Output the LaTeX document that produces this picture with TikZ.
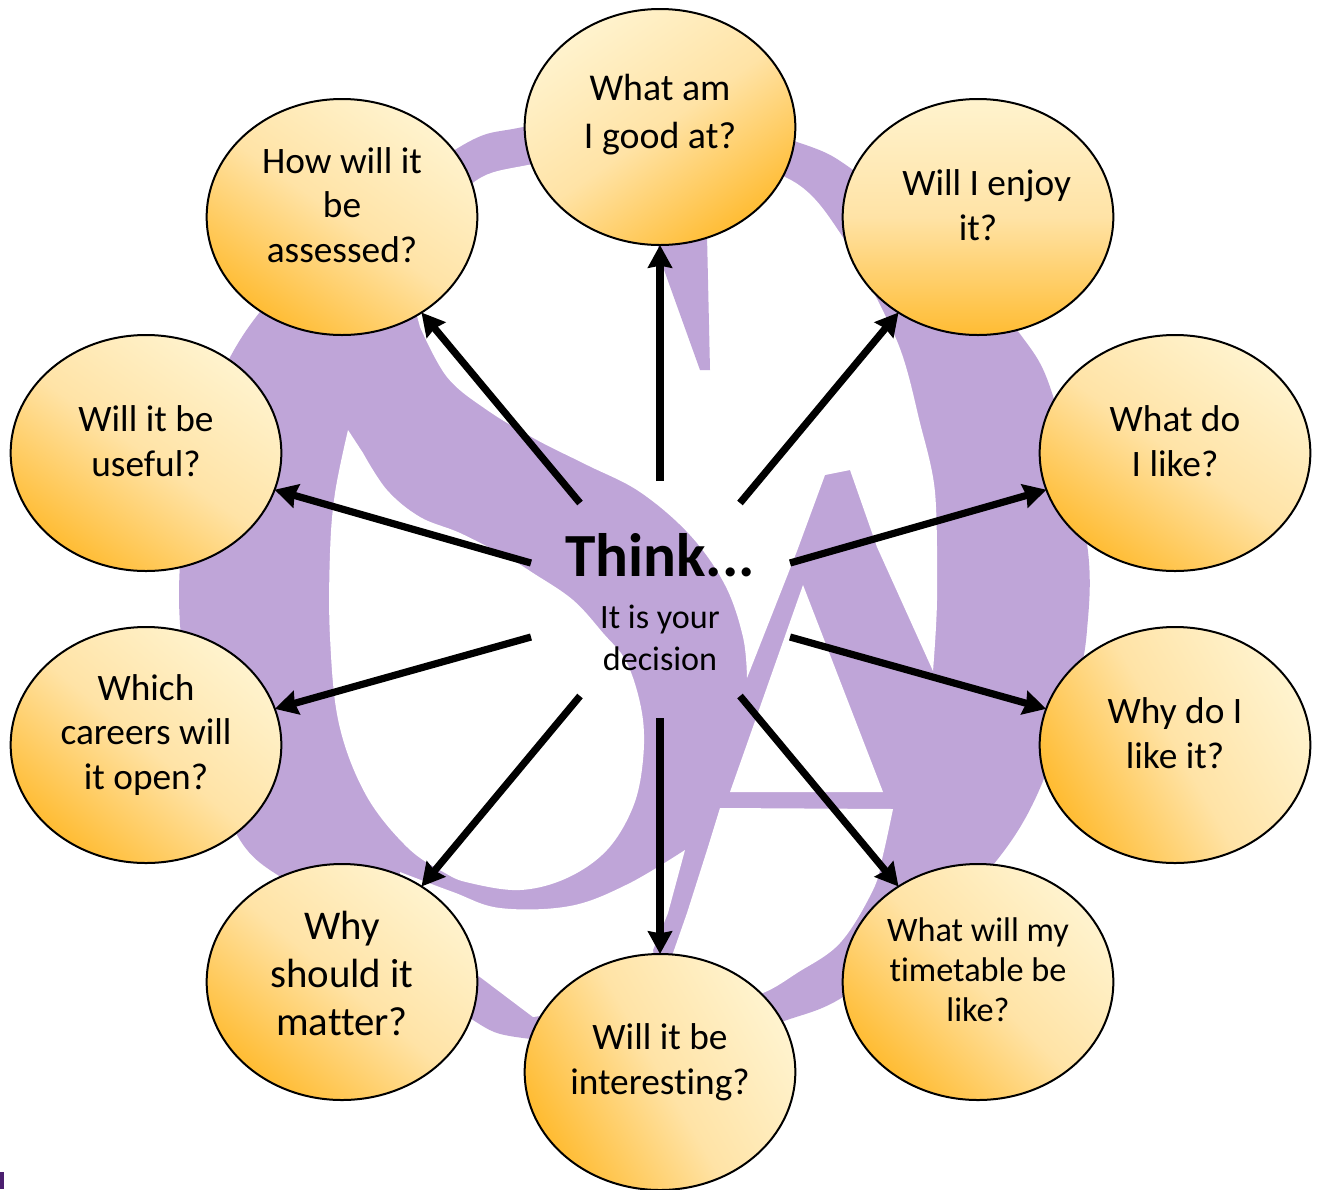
\documentclass[tikz,border=0pt]{standalone}
\usepackage{fontspec}
\setmainfont[Ligatures=NoCommon]{Carlito}
\usetikzlibrary{shapes.geometric,arrows.meta}
\definecolor{logo}{HTML}{BFA5D8}
\definecolor{lite}{HTML}{FFF3CE}
\definecolor{midtone}{HTML}{FFE3A6}
\definecolor{deep}{HTML}{FFBC33}
\definecolor{cornermark}{HTML}{4B1F6F}
\tikzset{
  bubble/.style={ellipse,draw=black,line width=1.5pt,minimum width=203pt,minimum height=177pt,inner sep=0pt,outer sep=0pt,top color=lite,bottom color=deep,middle color=midtone,shading angle=#1},
  ray/.style={line width=5.4pt,-{Stealth[length=17pt,width=18pt,inset=1.5pt]}},
  qtext/.style n args={2}{align=center,inner sep=0pt,font=\fontsize{#1}{#2}\selectfont},
  paper/.style={fill=white,draw=none},
  ink/.style={fill=logo,draw=none}
}
\begin{document}
\begin{tikzpicture}[x=0.75pt,y=-0.75pt]
\useasboundingbox (0,0) rectangle (1320,1189);
\fill[white] (0,0) rectangle (1320,1189);
\fill[cornermark] (0,1172) rectangle (4,1189);
% logo: outer body
\fill[ink] plot[smooth cycle,tension=0.55] coordinates {(660,105)(797,142)(853,170)(940,245)(1020,334)(1053,396)(1087,544)(1087,630)(1075,690)(1037,795)(997,860)(930,930)(843,997)(787,1020)(720,1040)(660,1045)(523,1038)(473,1020)(400,960)(300,890)(240,840)(195,720)(179,595)(195,450)(240,340)(320,250)(458,148)(523,127)};
% upper white region
\fill[paper] plot[smooth,tension=0.6] coordinates {(420,327)(447,377)(487,410)(537,440)(587,465)(640,492)(690,535)(725,585)(743,637)(747,678)} -- (797,551) -- (825,475) -- (850,470) -- (877,547) -- (933,671)
  -- plot[smooth,tension=0.5] coordinates {(933,671)(937,600)(935,492)(920,423)(897,341)(840,233)(787,178)(660,145)(528,165)(477,180)(430,230)(410,290)} -- cycle;
% spike under the top bubble
\fill[ink] (655,235) -- (663,267) -- (700,370) -- (710,370) -- (707,235) -- cycle;
% left teardrop
\fill[paper] (348,430) -- plot[smooth,tension=0.6] coordinates {(363,453)(387,490)(420,517)(460,533)(507,557)(533,573)(573,600)(603,633)(627,663)(642,713)(643,760)(633,807)(607,850)(567,878)(520,890)(470,883)(445,873)(407,847)(366,795)(339,724)(330,637)(330,553)(335,493)(348,430)} -- cycle;
% A counter
\fill[paper] (803,585) -- (883,792) -- (730,792) -- cycle;
% white under the S band
\fill[paper] plot[smooth,tension=0.6] coordinates {(400,872)(453,892)(500,908)(570,906)(628,884)(685,850)} -- (668,913) -- (653,950) -- (660,1000) -- (533,1017) -- (480,977) -- (400,930) -- cycle;
% white below the A bar
\fill[paper] (720,808) -- (893,809) -- plot[smooth,tension=0.6] coordinates {(893,809)(883,855)(873,890)(840,943)(797,973)(763,993)(720,1005)} -- (673,953) -- (687,913) -- (708,847) -- cycle;
% bubbles
\node[bubble=35]  (n1)  at (660,127)  {};
\node[bubble=0]   (n2)  at (978,217)  {};
\node[bubble=-35] (n3)  at (1175,453) {};
\node[bubble=-60] (n4)  at (1175,745) {};
\node[bubble=-45] (n5)  at (978,982)  {};
\node[bubble=-60] (n6)  at (660,1072) {};
\node[bubble=-40] (n7)  at (342,982)  {};
\node[bubble=-40] (n8)  at (146,745)  {};
\node[bubble=-35] (n9)  at (146,453)  {};
\node[bubble=-35] (n10) at (342,217)  {};
% ray starts
\coordinate (s1)  at (660,481);
\coordinate (s2)  at (740,503);
\coordinate (s3)  at (790,563);
\coordinate (s4)  at (790,637);
\coordinate (s5)  at (740,696);
\coordinate (s6)  at (660,718);
\coordinate (s7)  at (580,696);
\coordinate (s8)  at (531,637);
\coordinate (s9)  at (531,563);
\coordinate (s10) at (580,503);
\foreach \i in {1,...,10} \draw[ray] (s\i) -- (n\i);
% labels
\node[qtext={28.4pt}{36pt}] (t1)  at (660,115)  {What am\\I good at?};
\node[qtext={28pt}{33.5pt}] (t2)  at (978,205)  {\hspace*{13pt}Will I enjoy\\it?};
\node[qtext={28pt}{33.5pt}] (t3)  at (1175,441) {What do\\I like?};
\node[qtext={28pt}{33.5pt}] (t4)  at (1175,733) {Why do I\\like it?};
\node[qtext={25.7pt}{30pt}] (t5)  at (978,970)  {What will my\\timetable be\\like?};
\node[qtext={28pt}{33.5pt}] (t6)  at (660,1062) {Will it be\\interesting?};
\node[qtext={30.6pt}{36pt}] (t7)  at (342,973)  {Why\\should it\\matter?};
\node[qtext={28pt}{33.5pt}] (t8)  at (146,735)  {Which\\careers will\\it open?};
\node[qtext={28pt}{33.5pt}] (t9)  at (146,441)  {Will it be\\useful?};
\node[qtext={28pt}{33.5pt}] (t10) at (342,205)  {How will it\\be\\assessed?};
\node[inner sep=0pt,font=\fontsize{46pt}{50pt}\selectfont\bfseries] (think) at (660,555) {Think...};
\node[qtext={25.6pt}{31.5pt}] (dec) at (660,638) {It is your\\decision};
\end{tikzpicture}
\end{document}
